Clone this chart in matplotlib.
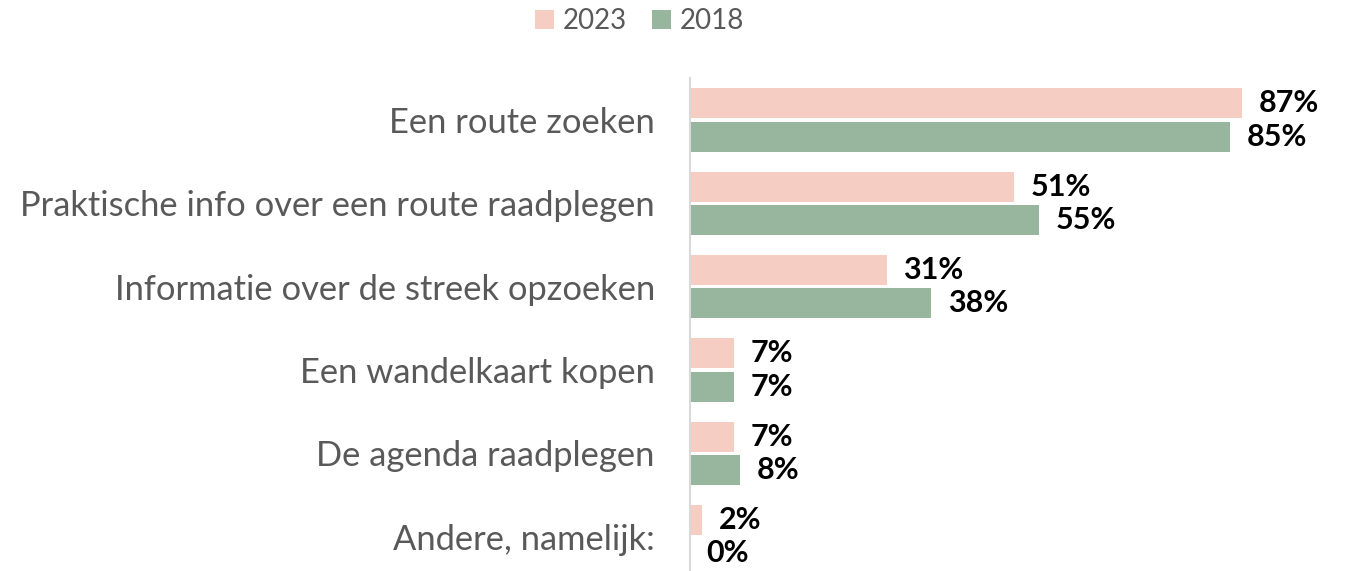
import numpy as np
import matplotlib.pyplot as plt

categories = [
    "Een route zoeken",
    "Praktische info over een route raadplegen",
    "Informatie over de streek opzoeken",
    "Een wandelkaart kopen",
    "De agenda raadplegen",
    "Andere, namelijk:",
]
vals_2023 = [87, 51, 31, 7, 7, 2]
vals_2018 = [85, 55, 38, 7, 8, 0]

c2023 = "#F5CDC2"
c2018 = "#98B59D"

plt.rcParams["font.family"] = ["Lato", "DejaVu Sans"]

fig = plt.figure(figsize=(13.52, 5.71), dpi=100)
ax = fig.add_axes([0.510, 0.0, 0.47, 0.863])

y = np.arange(len(categories))
h = 0.36
b1 = ax.barh(y - 0.2, vals_2023, height=h, color=c2023, label="2023")
b2 = ax.barh(y + 0.2, vals_2018, height=h, color=c2018, label="2018")

# value labels just right of each bar end
for bars, vals in ((b1, vals_2023), (b2, vals_2018)):
    for bar, v in zip(bars, vals):
        ax.annotate(f"{v}%", (bar.get_width(), bar.get_y() + bar.get_height() / 2),
                    xytext=(12, 0), textcoords="offset points", va="center", ha="left",
                    fontsize=22, fontweight="bold", color="black")

ax.set_xlim(0, 100)
ax.set_ylim(5.41, -0.5)
ax.set_yticks(y)
ax.set_yticklabels(categories, fontsize=24.8, color="#595959")
ax.tick_params(axis="y", length=0, pad=25)
ax.set_xticks([])
for s in ("top", "right", "bottom"):
    ax.spines[s].set_visible(False)
ax.spines["left"].set_color("#D9D9D9")
ax.spines["left"].set_linewidth(1.5)

fig.legend(handles=[b1, b2], loc="center", bbox_to_anchor=(0.473, 0.963), ncol=2,
           frameon=False, fontsize=20, labelcolor="#595959",
           handlelength=0.7, handleheight=0.7, handletextpad=0.3, columnspacing=0.9)

fig.savefig("out.png", dpi=100)
